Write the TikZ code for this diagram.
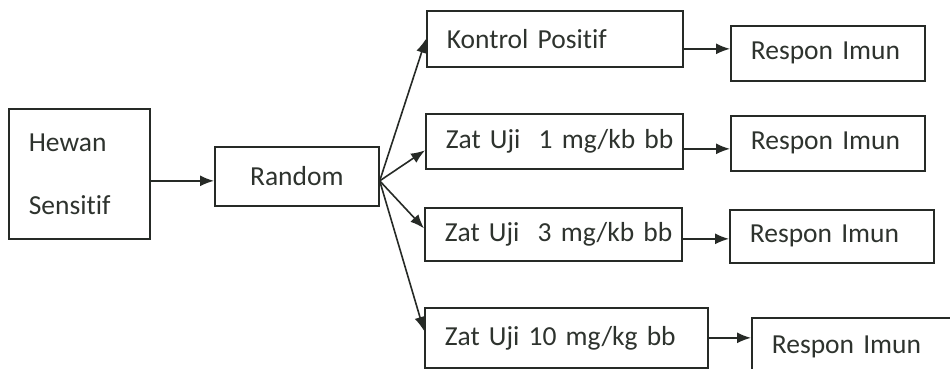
\documentclass[tikz,border=0pt]{standalone}
\usepackage{fontspec}
\setmainfont{Carlito}[Ligatures=NoCommon]
\usetikzlibrary{arrows.meta}
\definecolor{ink}{HTML}{262A26}
\definecolor{txt}{HTML}{2E332E}
\newcommand{\boxfont}{\fontsize{27.5}{33}\selectfont\spaceskip=4.3pt\relax}
\begin{document}
\begin{tikzpicture}[x=1pt,y=-1pt,
  box/.style={draw=ink, line width=1.7pt, anchor=north west, inner xsep=20pt,
    inner ysep=0pt, align=left, text=txt, font=\boxfont},
  arr/.style={draw=ink, line width=1.6pt, -{Latex[length=14pt,width=11pt]}}]
\useasboundingbox (0,0) rectangle (950,369);
\clip (0,0) rectangle (950,369);
\fill[white] (0,0) rectangle (950,369);

% first column
\node[box, minimum width=141pt, minimum height=130pt, text width=101pt]
  (hewan) at (8,108) {Hewan\\[30pt]Sensitif\\[-8pt]};
\node[box, minimum width=164pt, minimum height=59pt, text width=124pt, align=center]
  (random) at (214,146) {Random};

% treatment groups
\node[box, minimum width=256pt, minimum height=56pt, text width=216pt]
  (kp) at (426,10) {\mbox{Kontrol Positif}};
\node[box, minimum width=257pt, minimum height=55pt, text width=217pt]
  (z1) at (425,113) {\mbox{Zat Uji\ \ 1 mg/kb bb}};
\node[box, minimum width=257pt, minimum height=53pt, text width=217pt]
  (z3) at (424,207) {\mbox{Zat Uji\ \ 3 mg/kb bb}};
\node[box, minimum width=283pt, minimum height=60pt, text width=243pt]
  (z10) at (424,307) {\mbox{Zat Uji 10 mg/kg bb}};

% outcomes
\node[box, minimum width=194pt, minimum height=55pt, text width=154pt]
  (r1) at (730,25) {\mbox{Respon Imun}};
\node[box, minimum width=194pt, minimum height=55pt, text width=154pt]
  (r2) at (730,115) {\mbox{Respon Imun}};
\node[box, minimum width=204pt, minimum height=53pt, text width=164pt]
  (r3) at (729,209) {\mbox{Respon Imun}};
\node[box, minimum width=210pt, minimum height=58pt, text width=170pt]
  (r4) at (751,317) {\mbox{Respon Imun}};

% connectors
\draw[arr] ([yshift=-7pt]hewan.east) -- ([yshift=-7pt]hewan.east -| random.west);
\coordinate (fan) at ([yshift=-4.5pt]random.east);
\draw[arr] (fan) -- (kp.west);
\draw[arr] (fan) -- ([yshift=-9pt]z1.west);
\draw[arr] (fan) -- ([yshift=6pt]z3.west);
\draw[arr] (fan) -- ([yshift=7pt]z10.west);

\draw[arr] ([yshift=-10pt]kp.east) -- ([yshift=-10pt]kp.east -| r1.west);
\draw[arr] ([yshift=-7.5pt]z1.east) -- ([yshift=-7.5pt]z1.east -| r2.west);
\draw[arr] ([yshift=-4.5pt]z3.east) -- ([yshift=-4.5pt]z3.east -| r3.west);
\draw[arr] (z10.east) -- (z10.east -| r4.west);
\end{tikzpicture}
\end{document}
